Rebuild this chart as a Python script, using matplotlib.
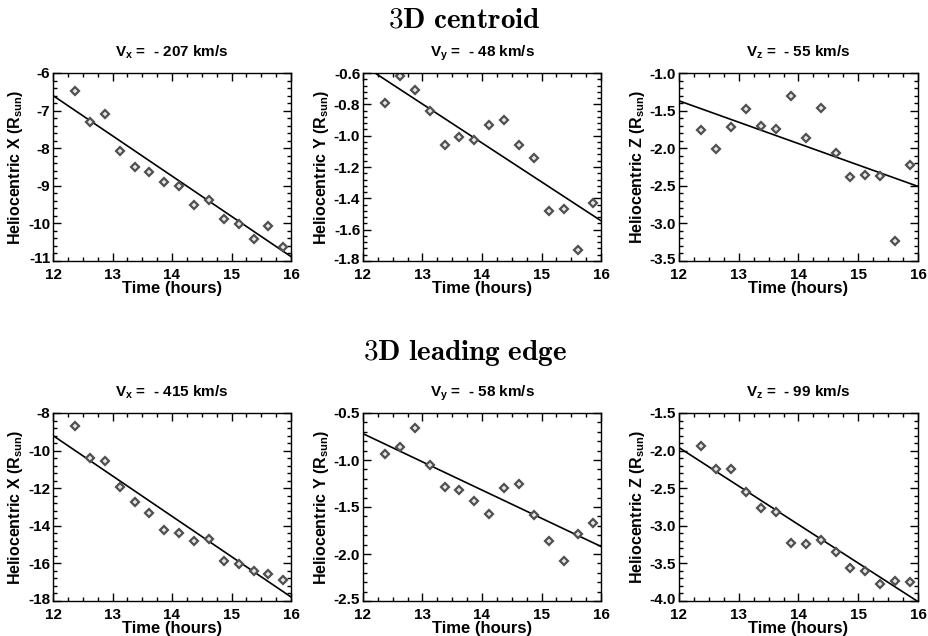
import numpy as np
import matplotlib
matplotlib.use('Agg')
import matplotlib.pyplot as plt
import matplotlib.transforms as mtransforms
from matplotlib.ticker import AutoMinorLocator, MultipleLocator

plt.rcParams['font.family'] = ['Liberation Sans', 'DejaVu Sans']
plt.rcParams['font.weight'] = 'bold'
plt.rcParams['axes.unicode_minus'] = False
plt.rcParams['mathtext.fontset'] = 'custom'
plt.rcParams['mathtext.rm'] = 'Liberation Sans:bold'
plt.rcParams['mathtext.it'] = 'Liberation Sans:bold'
plt.rcParams['mathtext.bf'] = 'Liberation Sans:bold'

# observation times (hours)
time = [12.37, 12.62, 12.87, 13.12, 13.37, 13.62, 13.87, 14.12,
        14.37, 14.62, 14.87, 15.12, 15.37, 15.62, 15.87]

# 3D centroid
cen_x = [-6.49, -7.31, -7.09, -8.07, -8.50, -8.63, -8.89, -9.00,
         -9.52, -9.38, -9.88, -10.01, -10.42, -10.06, -10.63]
cen_y = [-0.79, -0.62, -0.71, -0.84, -1.06, -1.01, -1.03, -0.93,
         -0.90, -1.06, -1.14, -1.48, -1.47, -1.73, -1.43]
cen_z = [-1.76, -2.01, -1.72, -1.48, -1.70, -1.75, -1.30, -1.87,
         -1.47, -2.06, -2.38, -2.36, -2.37, -3.23, -2.23]

# 3D leading edge
le_x = [-8.71, -10.39, -10.54, -11.95, -12.71, -13.30, -14.21, -14.38,
        -14.80, -14.70, -15.86, -16.04, -16.43, -16.55, -16.88]
le_y = [-0.94, -0.86, -0.66, -1.05, -1.29, -1.32, -1.44, -1.57,
        -1.30, -1.25, -1.58, -1.86, -2.07, -1.79, -1.67]
le_z = [-1.94, -2.25, -2.24, -2.55, -2.76, -2.81, -3.23, -3.24,
        -3.19, -3.35, -3.56, -3.60, -3.77, -3.74, -3.75]

# linear fits: velocity (km/s) and value at t = 12 h
velocity = [-207, -48, -55, -415, -58, -99]
fit_at_12 = [-6.60, -0.55, -1.37, -9.20, -0.72, -1.96]

components = ['x', 'y', 'z', 'x', 'y', 'z']
ylims = [(-11, -6), (-1.8, -0.6), (-3.5, -1.0),
         (-18, -8), (-2.5, -0.5), (-4.0, -1.5)]
ysteps = [1, 0.2, 0.5, 2, 0.5, 0.5]
series = [cen_x, cen_y, cen_z, le_x, le_y, le_z]

W, H = 929, 636
fig = plt.figure(figsize=(W / 100, H / 100), dpi=100)

cols = [(53, 291), (363, 601), (679, 918)]
rows = [(73, 261), (413, 601)]

axes = []
t_fit = np.array([12.0, 16.0])
for i in range(6):
    r, c = divmod(i, 3)
    x0, x1 = cols[c]
    y0, y1 = rows[r]
    ax = fig.add_axes([x0 / W, 1 - y1 / H, (x1 - x0) / W, (y1 - y0) / H])
    axes.append(ax)

    slope = velocity[i] * 3600 / 696000.0
    ax.plot(t_fit, fit_at_12[i] + slope * (t_fit - 12), color='black', lw=1.2)
    ax.plot(time, series[i], ls='none', marker='D', ms=4.3, mfc='#e6e6e6',
            mec='#505050', mew=1.6)

    ax.set_xlim(12, 16)
    ax.set_ylim(*ylims[i])
    ax.xaxis.set_major_locator(MultipleLocator(1))
    ax.xaxis.set_minor_locator(AutoMinorLocator(4))
    ax.yaxis.set_major_locator(MultipleLocator(ysteps[i]))
    ax.yaxis.set_minor_locator(AutoMinorLocator(5))
    ax.tick_params(which='both', direction='in', top=True, right=True,
                   labelsize=11, width=1)
    ax.tick_params(which='major', length=6)
    ax.tick_params(which='minor', length=3)
    ax.tick_params(axis='x', pad=5)
    ax.tick_params(axis='y', pad=2)
    for s in ax.spines.values():
        s.set_linewidth(1)

    comp = components[i]
    ax.set_xlabel('Time (hours)', fontsize=12, fontweight='bold', labelpad=-1)
    ax.set_ylabel('Heliocentric %s (R$_{sun}$)' % comp.upper(), fontsize=11.5,
                  fontweight='bold', labelpad=2)
    ax.set_title('V$_{%s}$ =  - %d km/s' % (comp, abs(velocity[i])),
                 fontsize=11, fontweight='bold', pad=12)

fig.text(0.5, 1 - 19 / H, r'$\mathbf{3D\ centroid}$', ha='center',
         va='center', math_fontfamily='cm', fontsize=21)
fig.text(0.5, 1 - 353 / H, r'$\mathbf{3D\ leading\ edge}$', ha='center',
         va='center', math_fontfamily='cm', fontsize=21)

# nudge the lowest y tick label up a little so it clears the "12" below
fig.canvas.draw()
lift = mtransforms.ScaledTranslation(0, 3 / 100, fig.dpi_scale_trans)
for ax, (ylo, yhi) in zip(axes, ylims):
    for tick in ax.yaxis.get_major_ticks():
        if abs(tick.get_loc() - ylo) < 1e-6:
            tick.label1.set_transform(tick.label1.get_transform() + lift)

fig.savefig('out.png', dpi=100)
